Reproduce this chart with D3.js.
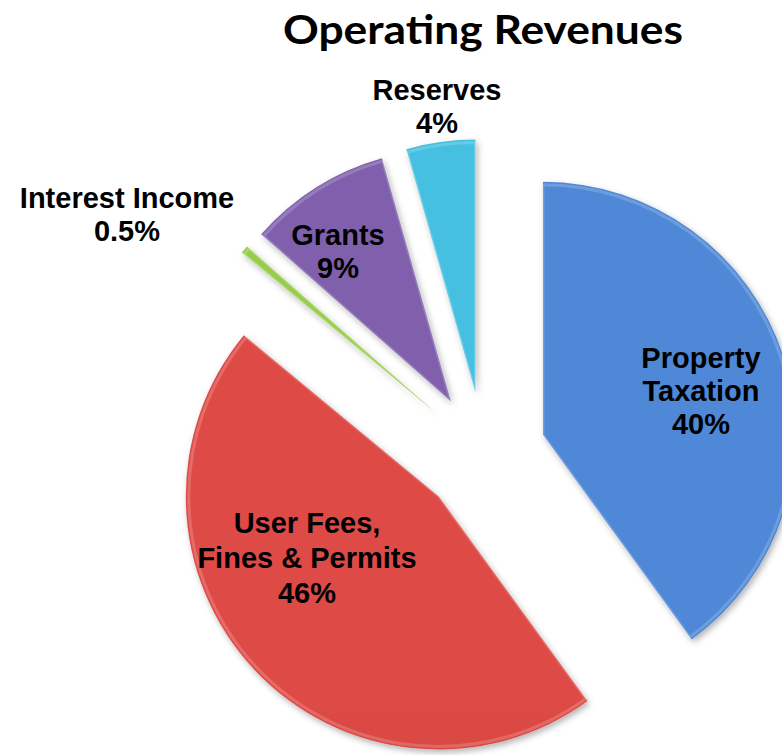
<!DOCTYPE html>
<html>
<head>
<meta charset="utf-8">
<script src="https://cdn.jsdelivr.net/npm/d3@7"></script>
<style>
  body { margin: 0; background: #fff; }
  text { font-family: "Liberation Sans", Arial, sans-serif; font-weight: bold; fill: #000; }
</style>
</head>
<body>
<script>
// ----------------------------------- DATA --------------------------------------------
var categories = ['Property Taxation', 'User Fees, Fines & Permits', 'Interest Income', 'Grants', 'Reserves']
// shares (labels show the rounded figures)
var values = [40, 46, 0.5, 9.1, 4.4]
var labelLines = [['Property', 'Taxation', '40%'], ['User Fees,', 'Fines & Permits', '46%'],
                  ['Interest Income', '0.5%'], ['Grants', '9%'], ['Reserves', '4%']]
var colorsTop = ['#4f88d6', '#de4b46', '#96cc48', '#8060ad', '#45c0e0']
var colorsBottom = ['#376ab2', '#ad312d', '#7cb232', '#654590', '#2fa6c8']

// ----------------------------------- SVG --------------------------------------------
var width = 782
var height = 755

var svg = d3.select('body')
      .append('svg')
      .attr('width', width)
      .attr('height', height)

var defs = svg.append('defs')

var shadow = defs.append('filter')
      .attr('id', 'shadow')
      .attr('x', '-20%').attr('y', '-20%')
      .attr('width', '140%').attr('height', '140%')
shadow.append('feDropShadow')
      .attr('dx', 2).attr('dy', 3)
      .attr('stdDeviation', 3)
      .attr('flood-color', '#000')
      .attr('flood-opacity', 0.3)

// ----------------------------------- PIE --------------------------------------------
var cx = 484, cy = 454
var radius = 253
var explode = 62

var pie = d3.pie().sort(null).value(function(d){ return d })
var arcs = pie(values)

var arc = d3.arc().innerRadius(0).outerRadius(radius)

arcs.forEach(function(d, i){
  var g = defs.append('linearGradient')
      .attr('id', 'grad' + i)
      .attr('gradientUnits', 'userSpaceOnUse')
      .attr('x1', 0).attr('y1', cy - radius)
      .attr('x2', 0).attr('y2', cy + radius + 60)
  g.append('stop').attr('offset', '0%').attr('stop-color', colorsTop[i])
  g.append('stop').attr('offset', '100%').attr('stop-color', colorsBottom[i])
})

var slices = svg.append('g')
      .selectAll('g')
      .data(arcs)
      .enter()
      .append('g')
      .attr('transform', function(d){
        var mid = (d.startAngle + d.endAngle) / 2
        return 'translate(' + (cx + Math.sin(mid) * explode) + ',' + (cy - Math.cos(mid) * explode) + ')'
      })

slices.append('path')
      .attr('d', arc)
      .attr('fill', function(d, i){ return 'url(#grad' + i + ')' })
      .attr('filter', 'url(#shadow)')

// bevel highlight
slices.append('path')
      .attr('d', d3.arc().innerRadius(0).outerRadius(radius - 3))
      .attr('fill', 'none')
      .attr('stroke', '#fff')
      .attr('stroke-opacity', 0.18)
      .attr('stroke-width', 3)
      .attr('stroke-linejoin', 'round')

// ----------------------------------- LABELS --------------------------------------------
var labelPos = [[701, 358], [307, 523], [127, 198], [338, 235], [437, 90]]

var labels = svg.append('g')
      .selectAll('text')
      .data(labelLines)
      .enter()
      .append('text')
      .attr('text-anchor', 'middle')
      .style('font-size', '29px')
      .attr('x', function(d, i){ return labelPos[i][0] })
      .attr('y', function(d, i){ return labelPos[i][1] + 10 })

labels.selectAll('tspan')
      .data(function(d, i){ return d.map(function(t){ return {t: t, i: i} }) })
      .enter()
      .append('tspan')
      .attr('x', function(d){ return labelPos[d.i][0] })
      .attr('dy', function(d, j){ return j === 0 ? 0 : (d.i === 1 ? 35 : 33) })
      .text(function(d){ return d.t })

// ----------------------------------- TITLE --------------------------------------------
svg.append('text')
      .attr('x', 483)
      .attr('y', 44)
      .attr('text-anchor', 'middle')
      .style('font-family', 'Lato, "Open Sans", sans-serif')
      .style('font-size', '40px')
      .attr('textLength', 400)
      .attr('lengthAdjust', 'spacingAndGlyphs')
      .text('Operating Revenues')
</script>
</body>
</html>
